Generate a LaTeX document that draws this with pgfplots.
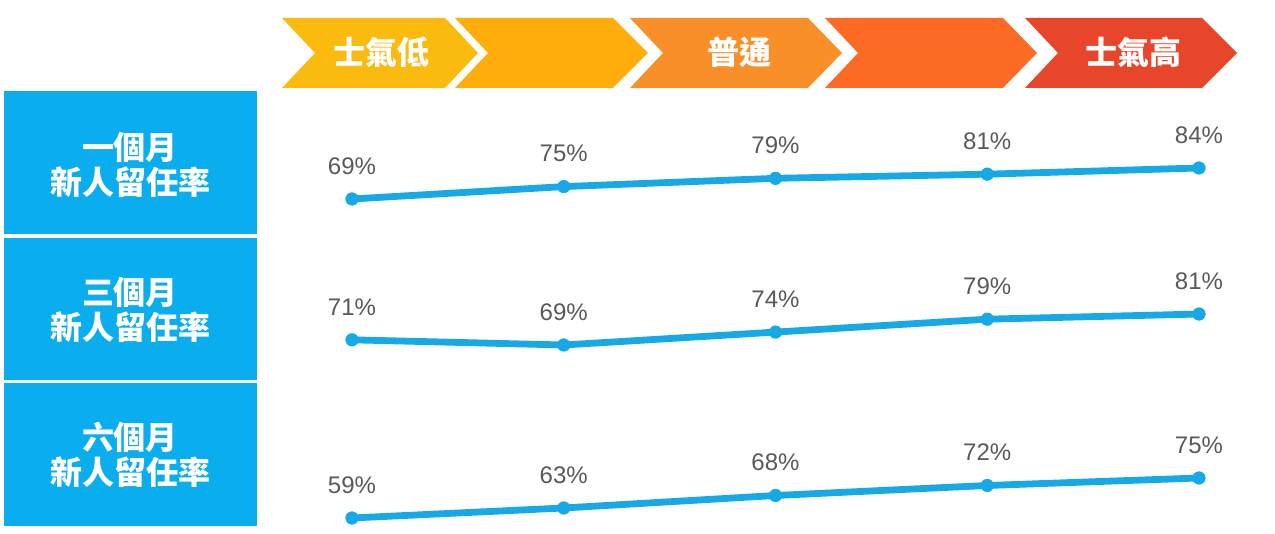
\documentclass[border=0pt]{standalone}
\usepackage{pgfplots}
\pgfplotsset{compat=1.18}
\usepackage{fontspec}
\setmainfont{Liberation Sans}
\newfontfamily\cjk{Noto Sans CJK TC}
\definecolor{boxblue}{HTML}{0AAEEF}
\definecolor{lineblue}{HTML}{16A9E6}
\definecolor{labelgray}{HTML}{595959}
\definecolor{cA}{HTML}{FBBA0E}
\definecolor{cB}{HTML}{FFAD0A}
\definecolor{cC}{HTML}{F98F28}
\definecolor{cD}{HTML}{FC6A24}
\definecolor{cE}{HTML}{E8462A}
\pgfplotsset{
  rowaxis/.style={
    anchor=south west, x=105.875pt, xmin=0, xmax=4,
    hide axis, clip=false, scale only axis, enlargelimits=false,
    /pgf/number format/assume math mode=true,
  },
  rowplot/.style={
    color=lineblue, line width=3.4pt, line join=round, line cap=round,
    mark=*, mark size=3.1pt, mark options={solid, fill=lineblue, draw=lineblue, line width=0.4pt},
    point meta=y,
    nodes near coords={\pgfmathprintnumber[assume math mode=true]{\pgfplotspointmeta}\%},
    every node near coord/.style={anchor=center, yshift=16.5pt, text=labelgray,
      font=\fontsize{12}{14}\selectfont},
  },
}
\begin{document}
\begin{tikzpicture}[x=0.5pt,y=0.5pt]
\useasboundingbox (0,0) rectangle (1275,534);
% left boxes
\fill[boxblue] (4,443) rectangle (257,300);
\fill[boxblue] (4,296) rectangle (257,154);
\fill[boxblue] (4,151) rectangle (257,8);
\tikzset{boxtxt/.style={text=white, align=center, font=\cjk\bfseries\fontsize{16}{17.5}\selectfont}}
\node[boxtxt] at (130,369) {一個月\\新人留任率};
\node[boxtxt] at (130,224) {三個月\\新人留任率};
\node[boxtxt] at (130,79) {六個月\\新人留任率};
% chevrons
\fill[cA] (282,516) -- (445,516) -- (478,481) -- (445,446) -- (282,446) -- (315,481) -- cycle;
\fill[cB] (455,516) -- (613,516) -- (648,481) -- (613,446) -- (455,446) -- (488,481) -- cycle;
\fill[cC] (630,516) -- (808,516) -- (842,481) -- (808,446) -- (630,446) -- (663,481) -- cycle;
\fill[cD] (825,516) -- (1003,516) -- (1037,481) -- (1003,446) -- (825,446) -- (858,481) -- cycle;
\fill[cE] (1025,516) -- (1202,516) -- (1237,481) -- (1202,446) -- (1025,446) -- (1058,481) -- cycle;
\tikzset{chevtxt/.style={text=white, font=\cjk\bfseries\fontsize{16}{18}\selectfont}}
\node[chevtxt] at (381,482) {士氣低};
\node[chevtxt] at (739,482) {普通};
\node[chevtxt] at (1133,482) {士氣高};
% row 1
\begin{axis}[rowaxis, at={(176pt,167.5pt)}, y=1.0333pt, ymin=69, ymax=84]
\addplot[rowplot] coordinates {(0,69) (1,75) (2,79) (3,81) (4,84)};
\end{axis}
% row 2
\begin{axis}[rowaxis, at={(176pt,94.5pt)}, y=1.29pt, ymin=69, ymax=81]
\addplot[rowplot] coordinates {(0,71) (1,69) (2,74) (3,79) (4,81)};
\end{axis}
% row 3
\begin{axis}[rowaxis, at={(176pt,8pt)}, y=1.25pt, ymin=59, ymax=75]
\addplot[rowplot] coordinates {(0,59) (1,63) (2,68) (3,72) (4,75)};
\end{axis}
\end{tikzpicture}
\end{document}
